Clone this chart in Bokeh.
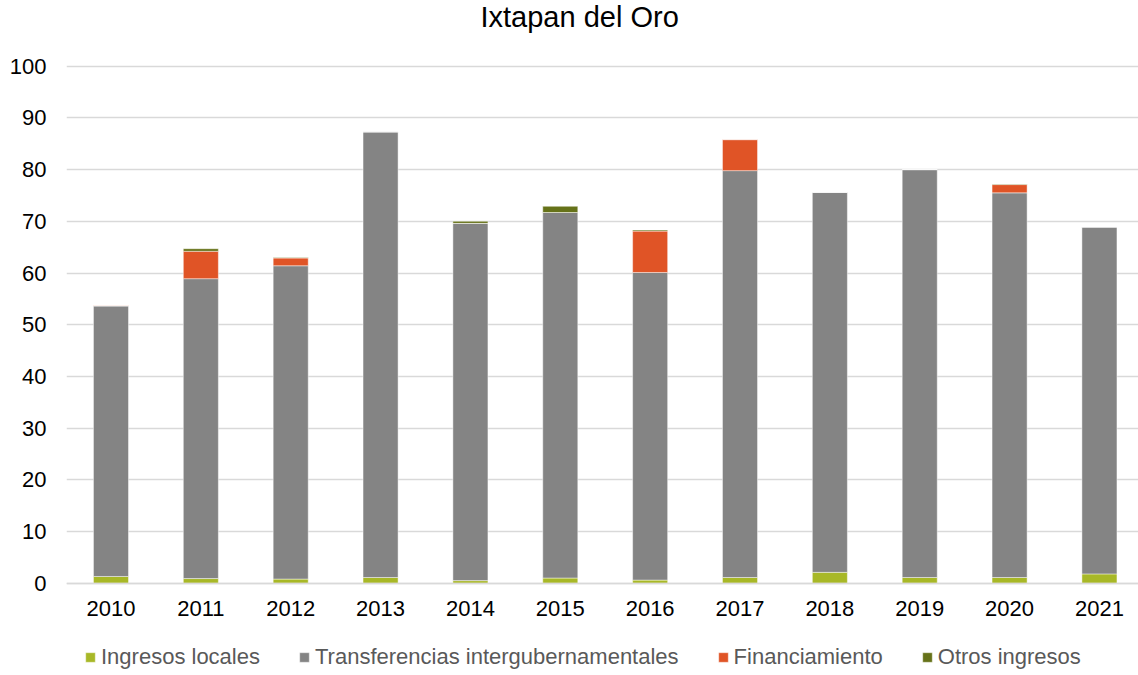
from bokeh.plotting import figure
from bokeh.models import Range1d, FixedTicker, Legend, LegendItem, ColumnDataSource
from bokeh.embed import file_html
from bokeh.resources import INLINE

# ---- data ----
years = [2010, 2011, 2012, 2013, 2014, 2015, 2016, 2017, 2018, 2019, 2020, 2021]
ingresos_locales = [1.3, 0.9, 0.8, 1.1, 0.5, 1.0, 0.6, 1.1, 2.1, 1.1, 1.1, 1.8]
transferencias = [52.3, 58.0, 60.6, 86.2, 69.1, 70.7, 59.5, 78.7, 73.5, 78.9, 74.4, 67.1]
financiamiento = [0.1, 5.3, 1.5, 0.0, 0.0, 0.0, 8.0, 6.0, 0.0, 0.0, 1.6, 0.0]
otros_ingresos = [0.0, 0.5, 0.1, 0.0, 0.4, 1.2, 0.2, 0.0, 0.0, 0.0, 0.1, 0.0]
series_names = ["Ingresos locales", "Transferencias intergubernamentales",
                "Financiamiento", "Otros ingresos"]
series_keys = ["locales", "transf", "fin", "otros"]
colors = ["#a8b827", "#848484", "#e05426", "#667219"]
y_ticks = [0, 10, 20, 30, 40, 50, 60, 70, 80, 90, 100]
title_text = "Ixtapan del Oro"

FONT = "Liberation Sans"

source = ColumnDataSource(dict(
    x=years, locales=ingresos_locales, transf=transferencias,
    fin=financiamiento, otros=otros_ingresos,
))

W, H = 1138, 675
LEFT, TOP = 66, 34
PX_PER_YEAR = 89.86
x_start = 2009.505
x_end = x_start + (W - LEFT) / PX_PER_YEAR
# y: 100 at 65.7 px, 0 at 582.7 px; frame spans from TOP to the figure bottom
Y100_PX, Y0_PX = 65.7, 582.7
px_per_unit = (Y0_PX - Y100_PX) / 100.0
y_end = 100 + (Y100_PX - TOP) / px_per_unit
y_start = -(H - Y0_PX) / px_per_unit

p = figure(width=W, height=H, output_backend="svg", toolbar_location=None,
           x_range=Range1d(x_start, x_end), y_range=Range1d(y_start, y_end),
           min_border_left=LEFT, min_border_right=0, min_border_top=TOP,
           min_border_bottom=0, background_fill_color="white",
           border_fill_color="white", outline_line_color=None)

renderers = p.vbar_stack(series_keys, x="x", width=0.39, source=source,
                         fill_color=colors, line_color="white", line_alpha=0.45,
                         line_width=1)

# title
p.title.text = title_text
p.title.align = "left"
p.title.offset = 414
p.title.vertical_align = "top"
p.title.standoff = 0
p.title.text_font = FONT
p.title.text_font_size = "29px"
p.title.text_font_style = "normal"
p.title.text_color = "#000000"

# axes
p.xaxis.fixed_location = 0
p.xaxis.ticker = FixedTicker(ticks=years)
p.xaxis.major_label_overrides = {y: str(y) for y in years}
p.yaxis.ticker = FixedTicker(ticks=y_ticks)
for ax in (p.xaxis, p.yaxis):
    ax.major_tick_out = 0
    ax.major_tick_in = 0
    ax.minor_tick_out = 0
    ax.minor_tick_in = 0
    ax.major_label_text_font = FONT
    ax.major_label_text_font_size = "22px"
    ax.major_label_text_color = "#000000"
p.yaxis.axis_line_color = None
p.yaxis.major_label_standoff = 20
p.xaxis.axis_line_color = "#d9d9d9"
p.xaxis.axis_line_width = 1.5
p.xaxis.major_label_standoff = 18

p.xgrid.grid_line_color = None
p.ygrid.grid_line_color = "#d9d9d9"
p.ygrid.grid_line_width = 1.3

# legend
items = [LegendItem(label=n, renderers=[r]) for n, r in zip(series_names, renderers)]
legend = Legend(items=items, orientation="horizontal", location=(18, 5),
                glyph_width=12, glyph_height=12, label_standoff=5, spacing=38,
                padding=0, margin=0, border_line_color=None,
                background_fill_alpha=0, label_text_font=FONT,
                label_text_font_size="22px", label_text_color="#595959")
p.add_layout(legend, "center")

open("out.html", "w").write(file_html(p, INLINE))
